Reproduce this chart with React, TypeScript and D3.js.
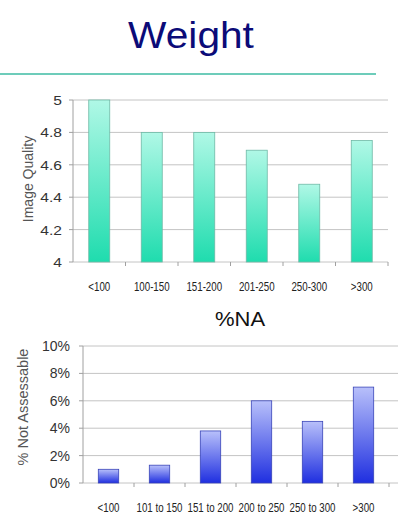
import React from "react";
import * as d3 from "d3";

const weightCats = ["<100", "100-150", "151-200", "201-250", "250-300", ">300"];
const qualityValues = [5.0, 4.8, 4.8, 4.69, 4.48, 4.75];
const qualityTicks = [4, 4.2, 4.4, 4.6, 4.8, 5];

const naCats = ["<100", "101 to 150", "151 to 200", "200 to 250", "250 to 300", ">300"];
const naValues = [1.0, 1.3, 3.8, 6.0, 4.5, 7.0];
const naTicks = [0, 2, 4, 6, 8, 10];

const sans = "'Liberation Sans', Arial, sans-serif";

// text squeezed or stretched horizontally around its anchor
const SText: React.FC<{
  x: number;
  y: number;
  sx: number;
  size: number;
  anchor?: string;
  fill?: string;
  children: React.ReactNode;
}> = ({ x, y, sx, size, anchor = "middle", fill = "#222", children }) => (
  <text
    transform={`translate(${x},${y}) scale(${sx},1)`}
    textAnchor={anchor}
    fontFamily={sans}
    fontSize={size}
    fill={fill}
  >
    {children}
  </text>
);

const App: React.FC = () => {
  // top chart
  const x1 = d3.scaleBand().domain(weightCats).range([73, 388]).paddingInner(0.6).paddingOuter(0.3);
  const y1 = d3.scaleLinear().domain([4, 5]).range([262, 100]);
  const step1 = x1.step();
  const x1start = 73;

  // bottom chart
  const x2 = d3.scaleBand().domain(naCats).range([83, 389]).paddingInner(0.6).paddingOuter(0.3);
  const y2 = d3.scaleLinear().domain([0, 10]).range([483, 346]);
  const step2 = x2.step();
  const x2start = 83;

  return (
    <svg width={400} height={531} style={{ position: "absolute", left: 0, top: 0, background: "#fff" }}>
      <defs>
        <linearGradient id="teal" x1="0" y1="0" x2="0" y2="1">
          <stop offset="0%" stopColor="#b0f8e6" />
          <stop offset="100%" stopColor="#1fdcae" />
        </linearGradient>
        <linearGradient id="blue" x1="0" y1="0" x2="0" y2="1">
          <stop offset="0%" stopColor="#b8c0fa" />
          <stop offset="100%" stopColor="#1f2fe0" />
        </linearGradient>
      </defs>

      <SText x={191} y={48} sx={1.13} size={36} fill="#0b0b78">
        Weight
      </SText>
      <line x1={0} x2={376} y1={74} y2={74} stroke="#3dbba3" strokeWidth={1.5} />

      {/* top chart */}
      {qualityTicks.map((t) => (
        <g key={"qt" + t}>
          <line x1={x1start} x2={388} y1={y1(t)} y2={y1(t)} stroke="#c4c4c4" strokeWidth={1} />
          <line x1={x1start - 4} x2={x1start} y1={y1(t)} y2={y1(t)} stroke="#a0a0a0" />
          <SText x={62} y={y1(t) + 5} sx={1.2} size={13} anchor="end" fill="#333">
            {d3.format("")(t)}
          </SText>
        </g>
      ))}
      <line x1={x1start} x2={x1start} y1={100} y2={262} stroke="#a0a0a0" />
      {weightCats.map((c, i) => (
        <line key={"xt1" + c} x1={x1start + step1 * (i + 1)} x2={x1start + step1 * (i + 1)} y1={262} y2={266} stroke="#a0a0a0" />
      ))}
      {weightCats.map((c, i) => (
        <rect
          key={"b1" + c}
          x={x1(c)!}
          y={y1(qualityValues[i])}
          width={x1.bandwidth()}
          height={y1(4) - y1(qualityValues[i])}
          fill="url(#teal)"
          stroke="#6fb9a6"
          strokeWidth={0.8}
        />
      ))}
      {weightCats.map((c) => (
        <SText key={"l1" + c} x={x1(c)! + x1.bandwidth() / 2} y={291} sx={0.78} size={12.5}>
          {c}
        </SText>
      ))}
      <text transform="translate(33,179) rotate(-90)" textAnchor="middle" fontFamily={sans} fontSize={14} fill="#555">
        Image Quality
      </text>

      {/* bottom chart */}
      <SText x={240} y={326} sx={1.1} size={20} fill="#111">
        %NA
      </SText>
      {naTicks.map((t) => (
        <g key={"nt" + t}>
          <line x1={x2start} x2={398} y1={y2(t)} y2={y2(t)} stroke="#c4c4c4" strokeWidth={1} />
          <line x1={x2start - 4} x2={x2start} y1={y2(t)} y2={y2(t)} stroke="#a0a0a0" />
          <SText x={70} y={y2(t) + 5} sx={1} size={14} anchor="end" fill="#333">
            {t + "%"}
          </SText>
        </g>
      ))}
      <line x1={x2start} x2={x2start} y1={346} y2={483} stroke="#a0a0a0" />
      {naCats.map((c, i) => (
        <line key={"xt2" + c} x1={x2start + step2 * (i + 1)} x2={x2start + step2 * (i + 1)} y1={483} y2={487} stroke="#a0a0a0" />
      ))}
      {naCats.map((c, i) => (
        <rect
          key={"b2" + c}
          x={x2(c)!}
          y={y2(naValues[i])}
          width={x2.bandwidth()}
          height={y2(0) - y2(naValues[i])}
          fill="url(#blue)"
          stroke="#3a45b8"
          strokeWidth={0.8}
        />
      ))}
      {naCats.map((c) => (
        <SText key={"l2" + c} x={x2(c)! + x2.bandwidth() / 2} y={512} sx={0.72} size={13.5}>
          {c}
        </SText>
      ))}
      <text transform="translate(28,407) rotate(-90)" textAnchor="middle" fontFamily={sans} fontSize={14.5} fill="#555">
        % Not Assessable
      </text>
    </svg>
  );
};

export default App;
